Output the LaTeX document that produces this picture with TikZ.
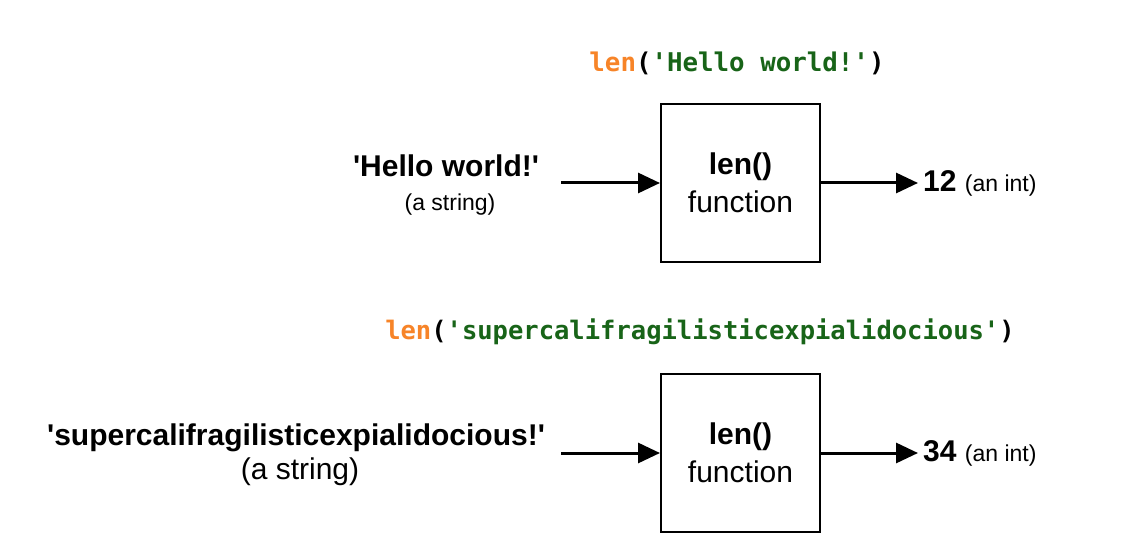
\documentclass[tikz,border=0pt]{standalone}
\usepackage{fontspec}
\setmainfont{Liberation Sans}[Ligatures=TeXOff]
\setmonofont{DejaVu Sans Mono}
\usepackage{xcolor}
\usetikzlibrary{arrows.meta, positioning}
\definecolor{lenorange}{RGB}{247,132,40}
\definecolor{strgreen}{RGB}{24,100,24}

\begin{document}
\begin{tikzpicture}[
    x=1pt, y=-1pt,
    fbox/.style={draw, line width=2pt, minimum width=159pt, minimum height=158pt, align=center, font=\fontsize{30}{38}\selectfont},
    flow/.style={line width=3pt, -{Triangle[length=22pt, width=20pt]}},
    code/.style={font=\ttfamily\bfseries\fontsize{25.8}{31}\selectfont},
    arg/.style={font=\bfseries\fontsize{30}{36}\selectfont},
    kind/.style={font=\fontsize{23}{28}\selectfont},
    result/.style={anchor=west, inner sep=5pt, font=\fontsize{30}{36}\selectfont},
  ]
    \useasboundingbox (0,0) rectangle (1130,556);

    % ── First call ──
    \node[code] (code-a) at (737,63) {\textcolor{lenorange}{len}(\textcolor{strgreen}{'Hello world!'})};
    \node[fbox] (box-a) at (740.5,183) {\textbf{len()}\\function};
    \node[arg] (in-a) at (446,166) {'Hello world!'};
    \node[kind] (kind-a) at (450,205) {(a string)};
    \coordinate (src-a) at (561,183);
    \node[result] (out-a) at (918,183) {\textbf{12} {\fontsize{23}{28}\selectfont (an int)}};
    \draw[flow] (src-a) -- (box-a);
    \draw[flow] (box-a) -- (out-a);

    % ── Second call ──
    \node[code, font=\ttfamily\bfseries\fontsize{25.5}{30}\selectfont] (code-b) at (700,332) {\textcolor{lenorange}{len}(\textcolor{strgreen}{'supercalifragilisticexpialidocious'})};
    \node[fbox] (box-b) at (740.5,453) {\textbf{len()}\\function};
    \node[arg] (in-b) at (296,438) {'supercalifragilisticexpialidocious!'};
    \node[arg, font=\fontsize{30}{36}\selectfont] (kind-b) at (300,472) {(a string)};
    \coordinate (src-b) at (561,453);
    \node[result] (out-b) at (918,453) {\textbf{34} {\fontsize{23}{28}\selectfont (an int)}};
    \draw[flow] (src-b) -- (box-b);
    \draw[flow] (box-b) -- (out-b);
\end{tikzpicture}
\end{document}
